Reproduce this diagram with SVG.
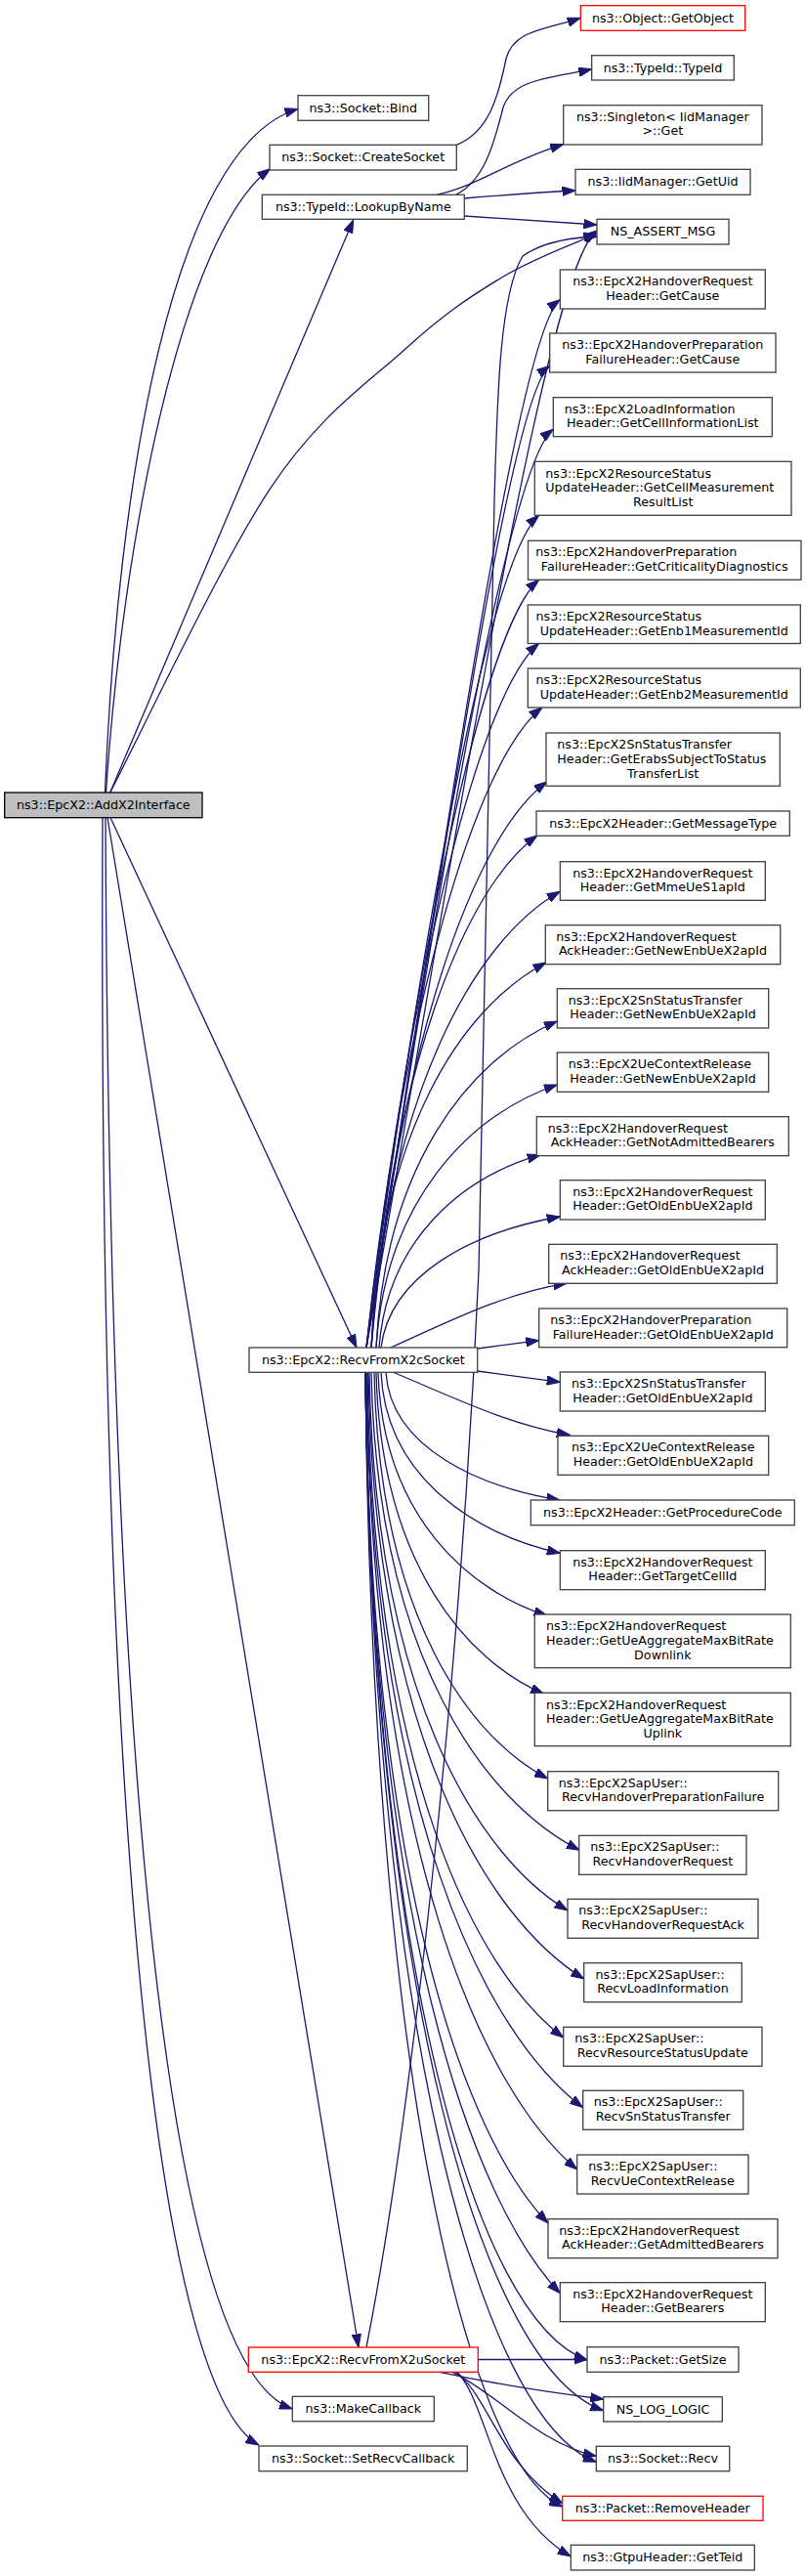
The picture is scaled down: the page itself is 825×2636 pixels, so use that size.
<svg xmlns="http://www.w3.org/2000/svg" width="825" height="2636" viewBox="0 0 825 2636">
<style>
.n rect{fill:#fff;stroke:#404040;stroke-width:1.3}
.r rect{stroke:#ff0000}
.g rect{fill:#bfbfbf;stroke:#000}
text{font-family:"DejaVu Sans","Liberation Sans",sans-serif;font-size:12.7px;fill:#000}
.m{text-anchor:middle}
.e path{fill:none;stroke:#191970;stroke-width:1.3;marker-end:url(#ah)}
</style>
<defs>
<marker id="ah" markerUnits="userSpaceOnUse" markerWidth="14" markerHeight="10" viewBox="0 0 14 10" refX="13.5" refY="5" orient="auto">
<path d="M0,0.3 L13.5,5 L0,9.7 z" fill="#191970" stroke="#191970" stroke-width="1"/>
</marker>
</defs>
<rect width="825" height="2636" fill="#fff"/>
<g class="e" id="edges">
<path d="M107.5,811 C120,500 175,150 305,111.5"/>
<path d="M108.5,811 C125,560 185,240 276.8,172.6"/>
<path d="M112.7,811 L361.7,225"/>
<path d="M112.7,811 C140,759.1 226.4,575.3 276.8,499.6 C327.2,423.9 375.5,393 415,357 C454.5,321 481.3,303.4 514,283.7 C546.7,264 594.8,246.5 611,239"/>
<path d="M113,836.5 L365,1379"/>
<path d="M110,836.5 L367,2402"/>
<path d="M108,836.5 C112,1800 170,2420 299.3,2465"/>
<path d="M105,836.5 C100,1950 170,2450 265,2502"/>
<path d="M467.3,148.3 C500,135 510,100 518,60 C526,30 560,30 594.3,18.3"/>
<path d="M466.7,199.3 C495,185 505,150 515,110 C525,80 565,80 605.7,70.7"/>
<path d="M446.7,199.3 C490,190 520,165 576.7,147.7"/>
<path d="M475.3,203 C510,200 550,197 589,195"/>
<path d="M475.3,221 L611,230"/>
<path d="M375,1379 C471.8,826.6 559.1,274.2 611,236"/>
<path d="M375,1379 C456.3,858.9 529.7,338.9 573.3,306.7"/>
<path d="M375,1379 C452,891.7 521.4,404.4 562.7,374.3"/>
<path d="M375,1379 C446.5,917.1 518.9,475.9 566.3,439.3"/>
<path d="M375,1379 C431.7,952.3 500.6,571.8 551.7,527.3"/>
<path d="M375,1379 C424.7,979.8 495.2,642.1 551.7,593.3"/>
<path d="M375,1379 C417.8,1007.8 489.9,710.2 551.7,658.3"/>
<path d="M375,1379 C411.5,1037 486.4,777.5 555,724"/>
<path d="M380,1379 C408.3,1071.6 485,854 560,800"/>
<path d="M380,1379 C401.2,1097.9 474.9,908.1 550,855"/>
<path d="M380,1379 C397.4,1125.7 482.6,963.6 573.3,912.3"/>
<path d="M380,1379 C389,1162.3 469.5,1032.3 559,985"/>
<path d="M385,1379 C394.3,1195.3 477.6,1085.1 570.3,1045"/>
<path d="M385,1379 C394.3,1231.1 477.6,1142.3 570.3,1110"/>
<path d="M388,1379 C396.3,1270.5 470.6,1205.4 553.3,1181.7"/>
<path d="M390,1379 C399.2,1305.3 481.7,1261.1 573.3,1245"/>
<path d="M400,1379 C460,1352 520,1322 580,1313.3"/>
<path d="M488.7,1380 L551.7,1371.7"/>
<path d="M488.7,1403 L573.3,1414.3"/>
<path d="M403,1404.5 C460,1428 520,1458 583.3,1468.3"/>
<path d="M395,1404.5 C400.3,1482.8 492.9,1522 573,1535"/>
<path d="M390,1404.5 C395.5,1515.4 490.8,1570.8 573.3,1589.3"/>
<path d="M387,1404.5 C392.2,1553.8 482.2,1628.4 560,1653.3"/>
<path d="M385,1404.5 C390.2,1601.8 479.4,1700.4 556.7,1733.3"/>
<path d="M383,1404.5 C388.3,1653.8 480.7,1778.5 560.7,1820"/>
<path d="M380,1404.5 C386.4,1697.8 497.3,1844.4 593.3,1893.3"/>
<path d="M378,1404.5 C384.1,1734.8 489.7,1900 581,1955"/>
<path d="M377,1404.5 C383.6,1776.8 498.4,1963 597.7,2025"/>
<path d="M376,1404.5 C382,1812.8 486.4,2017 576.7,2085"/>
<path d="M375,1404.5 C381.7,1855.8 496.9,2081.5 596.7,2156.7"/>
<path d="M375,1404.5 C381.5,1893.8 493.6,2138.5 590.7,2220"/>
<path d="M374,1404.5 C379.6,1926.8 476.9,2188 561,2275"/>
<path d="M374,1404.5 C380,1969.8 483.6,2252.5 573.3,2346.7"/>
<path d="M374,1404.5 C380.8,2010.8 487.5,2374.6 601,2415"/>
<path d="M374,1404.5 C381.3,2041.8 495.8,2424.2 617.7,2466.7"/>
<path d="M374,1404.5 C381.1,2073.4 492.2,2474.7 610.3,2519.3"/>
<path d="M374,1404.5 C380,2100.8 474.9,2518.6 575.7,2565"/>
<path d="M375,2402 C415,2200 470,1750 490,1300 C496,1000 500,700 506,513 C509,400 512,300 535,262 C555,248 585,243 611,242"/>
<path d="M489.3,2414.5 L601,2414.5"/>
<path d="M450,2427.3 C500,2438 560,2448 617.7,2455"/>
<path d="M463,2427.3 C510,2450 550,2500 610.3,2513.3"/>
<path d="M466,2427.3 C500,2450 510,2520 575.7,2561.7"/>
<path d="M468,2427.3 C500,2460 505,2570 584.3,2616"/>
</g>
<g id="AddX2Interface" class="n g"><rect x="4.7" y="811" width="202.3" height="25.7"/><text class="m" x="105.8" y="828">ns3::EpcX2::AddX2Interface</text></g>
<g id="SocketBind" class="n"><rect x="305" y="97.7" width="133.7" height="25.6"/><text class="m" x="371.8" y="114.7">ns3::Socket::Bind</text></g>
<g id="CreateSocket" class="n"><rect x="276" y="148.3" width="191.3" height="25.7"/><text class="m" x="371.7" y="165.3">ns3::Socket::CreateSocket</text></g>
<g id="LookupByName" class="n"><rect x="268.3" y="199.3" width="207" height="25"/><text class="m" x="371.8" y="216.3">ns3::TypeId::LookupByName</text></g>
<g id="RecvFromX2cSocket" class="n"><rect x="255" y="1379" width="233.7" height="25.3"/><text class="m" x="371.8" y="1396">ns3::EpcX2::RecvFromX2cSocket</text></g>
<g id="RecvFromX2uSocket" class="n r"><rect x="254.3" y="2402" width="235" height="25.3"/><text class="m" x="371.8" y="2419">ns3::EpcX2::RecvFromX2uSocket</text></g>
<g id="MakeCallback" class="n"><rect x="299.3" y="2452.3" width="145" height="25.4"/><text class="m" x="371.8" y="2469.3">ns3::MakeCallback</text></g>
<g id="SetRecvCallback" class="n"><rect x="265" y="2503" width="213.3" height="25.7"/><text class="m" x="371.7" y="2520">ns3::Socket::SetRecvCallback</text></g>
<g id="GetObject" class="n r"><rect x="594.3" y="5.7" width="168.4" height="25.6"/><text class="m" x="678.5" y="22.7">ns3::Object::GetObject</text></g>
<g id="TypeIdTypeId" class="n"><rect x="605.7" y="56.7" width="145.6" height="25.3"/><text class="m" x="678.5" y="73.7">ns3::TypeId::TypeId</text></g>
<g id="SingletonGet" class="n"><rect x="576.7" y="107.7" width="203.3" height="40.3"/><text class="m" x="678.3" y="123.7">ns3::Singleton&lt; IidManager</text><text class="m" x="678.3" y="138.4">&gt;::Get</text></g>
<g id="GetUid" class="n"><rect x="589" y="173.3" width="179" height="26"/><text class="m" x="678.5" y="190.3">ns3::IidManager::GetUid</text></g>
<g id="NS_ASSERT_MSG" class="n"><rect x="611" y="224.3" width="135" height="25.7"/><text class="m" x="678.5" y="241.3">NS_ASSERT_MSG</text></g>
<g id="HRGetCause" class="n"><rect x="573.3" y="276" width="210" height="40"/><text class="m" x="678.3" y="292">ns3::EpcX2HandoverRequest</text><text class="m" x="678.3" y="306.7">Header::GetCause</text></g>
<g id="HPFGetCause" class="n"><rect x="562.7" y="341" width="231.3" height="40"/><text class="m" x="678.3" y="357">ns3::EpcX2HandoverPreparation</text><text class="m" x="678.3" y="371.7">FailureHeader::GetCause</text></g>
<g id="GetCellInformationList" class="n"><rect x="566.3" y="406.7" width="224" height="40"/><text x="577.7" y="422.7">ns3::EpcX2LoadInformation</text><text class="m" x="678.3" y="437.4">Header::GetCellInformationList</text></g>
<g id="GetCellMeasurementResultList" class="n"><rect x="547.3" y="472.3" width="262.7" height="55"/><text x="558.3" y="488.6">ns3::EpcX2ResourceStatus</text><text x="558.3" y="503.3">UpdateHeader::GetCellMeasurement</text><text class="m" x="678.7" y="518">ResultList</text></g>
<g id="GetCriticalityDiagnostics" class="n"><rect x="540.5" y="553.3" width="279.5" height="40"/><text x="548.3" y="569.3">ns3::EpcX2HandoverPreparation</text><text class="m" x="680.2" y="584">FailureHeader::GetCriticalityDiagnostics</text></g>
<g id="GetEnb1MeasurementId" class="n"><rect x="540.3" y="619" width="279" height="39.5"/><text x="548.5" y="635">ns3::EpcX2ResourceStatus</text><text class="m" x="679.8" y="649.7">UpdateHeader::GetEnb1MeasurementId</text></g>
<g id="GetEnb2MeasurementId" class="n"><rect x="540.3" y="684" width="279" height="40"/><text x="548.5" y="700">ns3::EpcX2ResourceStatus</text><text class="m" x="679.8" y="714.7">UpdateHeader::GetEnb2MeasurementId</text></g>
<g id="GetErabsSubjectToStatusTransferList" class="n"><rect x="559" y="750" width="239.3" height="54.3"/><text x="570.3" y="766.3">ns3::EpcX2SnStatusTransfer</text><text x="570.3" y="781">Header::GetErabsSubjectToStatus</text><text class="m" x="678.7" y="795.7">TransferList</text></g>
<g id="GetMessageType" class="n"><rect x="549" y="830" width="259.3" height="25.3"/><text class="m" x="678.7" y="847">ns3::EpcX2Header::GetMessageType</text></g>
<g id="GetMmeUeS1apId" class="n"><rect x="573.3" y="881.7" width="210" height="39.6"/><text class="m" x="678.3" y="897.7">ns3::EpcX2HandoverRequest</text><text class="m" x="678.3" y="912.4">Header::GetMmeUeS1apId</text></g>
<g id="AckGetNewEnbUeX2apId" class="n"><rect x="558.3" y="946.7" width="240.4" height="40"/><text x="569.3" y="962.7">ns3::EpcX2HandoverRequest</text><text class="m" x="678.5" y="977.4">AckHeader::GetNewEnbUeX2apId</text></g>
<g id="SnGetNewEnbUeX2apId" class="n"><rect x="570.3" y="1011.7" width="216.4" height="40.3"/><text x="581.7" y="1027.7">ns3::EpcX2SnStatusTransfer</text><text class="m" x="678.5" y="1042.4">Header::GetNewEnbUeX2apId</text></g>
<g id="UeCtxGetNewEnbUeX2apId" class="n"><rect x="570.3" y="1077" width="216.4" height="40.3"/><text x="581.7" y="1093">ns3::EpcX2UeContextRelease</text><text class="m" x="678.5" y="1107.7">Header::GetNewEnbUeX2apId</text></g>
<g id="GetNotAdmittedBearers" class="n"><rect x="549.3" y="1142.7" width="258" height="40"/><text x="560.7" y="1158.7">ns3::EpcX2HandoverRequest</text><text class="m" x="678.3" y="1173.4">AckHeader::GetNotAdmittedBearers</text></g>
<g id="HRGetOldEnbUeX2apId" class="n"><rect x="573.3" y="1207.7" width="210" height="40.3"/><text class="m" x="678.3" y="1223.7">ns3::EpcX2HandoverRequest</text><text class="m" x="678.3" y="1238.4">Header::GetOldEnbUeX2apId</text></g>
<g id="AckGetOldEnbUeX2apId" class="n"><rect x="561.7" y="1273.3" width="233.6" height="40"/><text x="573.3" y="1289.3">ns3::EpcX2HandoverRequest</text><text class="m" x="678.5" y="1304">AckHeader::GetOldEnbUeX2apId</text></g>
<g id="HPFGetOldEnbUeX2apId" class="n"><rect x="551.7" y="1339" width="254" height="39.7"/><text x="563.3" y="1355">ns3::EpcX2HandoverPreparation</text><text class="m" x="678.7" y="1369.7">FailureHeader::GetOldEnbUeX2apId</text></g>
<g id="SnGetOldEnbUeX2apId" class="n"><rect x="573.3" y="1404" width="210" height="40"/><text x="585" y="1420">ns3::EpcX2SnStatusTransfer</text><text class="m" x="678.3" y="1434.7">Header::GetOldEnbUeX2apId</text></g>
<g id="UeCtxGetOldEnbUeX2apId" class="n"><rect x="571" y="1469.3" width="215.7" height="40"/><text class="m" x="678.8" y="1485.3">ns3::EpcX2UeContextRelease</text><text class="m" x="678.8" y="1500">Header::GetOldEnbUeX2apId</text></g>
<g id="GetProcedureCode" class="n"><rect x="543.3" y="1535" width="270" height="25.7"/><text class="m" x="678.3" y="1552">ns3::EpcX2Header::GetProcedureCode</text></g>
<g id="GetTargetCellId" class="n"><rect x="573.3" y="1586.7" width="210" height="40"/><text class="m" x="678.3" y="1602.7">ns3::EpcX2HandoverRequest</text><text class="m" x="678.3" y="1617.4">Header::GetTargetCellId</text></g>
<g id="GetUeAggregateMaxBitRateDownlink" class="n"><rect x="547.3" y="1652" width="262" height="54.7"/><text x="559" y="1668.3">ns3::EpcX2HandoverRequest</text><text x="559" y="1683">Header::GetUeAggregateMaxBitRate</text><text class="m" x="678.3" y="1697.7">Downlink</text></g>
<g id="GetUeAggregateMaxBitRateUplink" class="n"><rect x="547.3" y="1732.3" width="262" height="54.4"/><text x="559" y="1748.6">ns3::EpcX2HandoverRequest</text><text x="559" y="1763.3">Header::GetUeAggregateMaxBitRate</text><text class="m" x="678.3" y="1778">Uplink</text></g>
<g id="RecvHandoverPreparationFailure" class="n"><rect x="560.7" y="1812.7" width="236" height="40"/><text x="571.7" y="1828.7">ns3::EpcX2SapUser::</text><text class="m" x="678.7" y="1843.4">RecvHandoverPreparationFailure</text></g>
<g id="RecvHandoverRequest" class="n"><rect x="592.7" y="1878.3" width="171.3" height="40"/><text x="604.3" y="1894.3">ns3::EpcX2SapUser::</text><text class="m" x="678.3" y="1909">RecvHandoverRequest</text></g>
<g id="RecvHandoverRequestAck" class="n"><rect x="581" y="1943.3" width="195" height="40"/><text x="592.3" y="1959.3">ns3::EpcX2SapUser::</text><text class="m" x="678.5" y="1974">RecvHandoverRequestAck</text></g>
<g id="RecvLoadInformation" class="n"><rect x="597.7" y="2008.7" width="161.6" height="40"/><text x="609.5" y="2024.7">ns3::EpcX2SapUser::</text><text class="m" x="678.5" y="2039.4">RecvLoadInformation</text></g>
<g id="RecvResourceStatusUpdate" class="n"><rect x="576.7" y="2074.3" width="203.3" height="40"/><text x="588.3" y="2090.3">ns3::EpcX2SapUser::</text><text class="m" x="678.3" y="2105">RecvResourceStatusUpdate</text></g>
<g id="RecvSnStatusTransfer" class="n"><rect x="596.7" y="2139.3" width="164" height="40"/><text x="607.7" y="2155.3">ns3::EpcX2SapUser::</text><text class="m" x="678.7" y="2170">RecvSnStatusTransfer</text></g>
<g id="RecvUeContextRelease" class="n"><rect x="590.7" y="2205" width="175.3" height="40"/><text x="602.3" y="2221">ns3::EpcX2SapUser::</text><text class="m" x="678.3" y="2235.7">RecvUeContextRelease</text></g>
<g id="GetAdmittedBearers" class="n"><rect x="561" y="2270.7" width="235" height="40"/><text x="572.3" y="2286.7">ns3::EpcX2HandoverRequest</text><text class="m" x="678.5" y="2301.4">AckHeader::GetAdmittedBearers</text></g>
<g id="GetBearers" class="n"><rect x="573.3" y="2335.7" width="210" height="40"/><text class="m" x="678.3" y="2351.7">ns3::EpcX2HandoverRequest</text><text class="m" x="678.3" y="2366.4">Header::GetBearers</text></g>
<g id="PacketGetSize" class="n"><rect x="601" y="2401.7" width="155" height="25.6"/><text class="m" x="678.5" y="2418.7">ns3::Packet::GetSize</text></g>
<g id="NS_LOG_LOGIC" class="n"><rect x="617.7" y="2452.7" width="121.6" height="25.3"/><text class="m" x="678.5" y="2469.7">NS_LOG_LOGIC</text></g>
<g id="SocketRecv" class="n"><rect x="610.3" y="2503.3" width="136.4" height="25.4"/><text class="m" x="678.5" y="2520.3">ns3::Socket::Recv</text></g>
<g id="RemoveHeader" class="n r"><rect x="575.7" y="2554.3" width="205.3" height="25"/><text class="m" x="678.3" y="2571.3">ns3::Packet::RemoveHeader</text></g>
<g id="GetTeid" class="n"><rect x="584.3" y="2604.3" width="188" height="25.7"/><text class="m" x="678.3" y="2621.3">ns3::GtpuHeader::GetTeid</text></g>
</svg>
